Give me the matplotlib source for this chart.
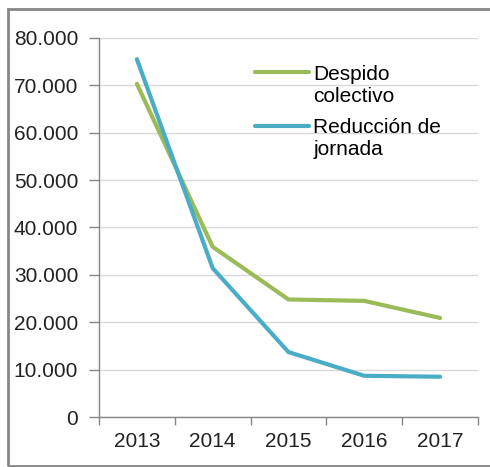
import matplotlib
matplotlib.use('Agg')
import matplotlib.pyplot as plt
from matplotlib.patches import Rectangle
from matplotlib.legend_handler import HandlerLine2D
from matplotlib.ticker import FuncFormatter, FixedLocator, NullFormatter

plt.rcParams['font.family'] = ['Liberation Sans', 'DejaVu Sans']

years = ['2013', '2014', '2015', '2016', '2017']
despido = [70300, 35900, 24800, 24500, 20900]
reduccion = [75500, 31400, 13700, 8700, 8500]
labels = ['Despido\ncolectivo', 'Reducción de\njornada']

green = '#9BBB59'
blue = '#4BACC6'
grey = '#868686'


# legend line sits on the first text line, not in the middle
class TopLine(HandlerLine2D):
    def create_artists(self, legend, orig_handle, xdescent, ydescent,
                       width, height, fontsize, trans):
        arts = super().create_artists(legend, orig_handle, xdescent, ydescent,
                                      width, height, fontsize, trans)
        for a in arts:
            a.set_ydata([y + fontsize * 0.62 for y in a.get_ydata()])
        return arts


fig = plt.figure(figsize=(4.9, 4.67), dpi=100)
ax = fig.add_axes([0.202, 0.107, 0.7735, 0.812])

x = list(range(len(years)))
l1, = ax.plot(x, despido, color=green, lw=3, solid_capstyle='round', zorder=3)
l2, = ax.plot(x, reduccion, color=blue, lw=3, solid_capstyle='round', zorder=4)

ax.set_xlim(-0.5, len(years) - 0.5)
ax.set_ylim(0, 80000)
ax.set_yticks(range(0, 80001, 10000))
ax.yaxis.set_major_formatter(FuncFormatter(
    lambda v, p: '0' if v == 0 else f'{int(v):,}'.replace(',', '.')))
ax.set_xticks(x)
ax.set_xticklabels(years)
ax.xaxis.set_minor_locator(FixedLocator([i - 0.5 for i in range(len(years) + 1)]))
ax.xaxis.set_minor_formatter(NullFormatter())
ax.tick_params(axis='x', which='major', length=0, labelsize=15, pad=11, colors='#222222')
ax.tick_params(axis='x', which='minor', length=6, width=1, color=grey, direction='out')
ax.tick_params(axis='y', length=7, width=1, color=grey, labelsize=15, pad=8,
               labelcolor='#222222')

ax.grid(axis='y', color='#D9D9D9', lw=1)
ax.set_axisbelow(True)
for s in ['top', 'right']:
    ax.spines[s].set_visible(False)
for s in ['left', 'bottom']:
    ax.spines[s].set_color(grey)
    ax.spines[s].set_linewidth(1)

ax.legend([l1, l2], labels, loc='upper left', bbox_to_anchor=(0.362, 0.979),
          frameon=False, fontsize=15, handlelength=2.6, handletextpad=0.2,
          labelspacing=0.62, handler_map={l1: TopLine(), l2: TopLine()})

fig.patches.append(Rectangle((8 / 490, 1 / 467), 1.0, 457 / 467, transform=fig.transFigure,
                             fill=False, edgecolor=grey, lw=2))

fig.savefig('out.png', dpi=100)
